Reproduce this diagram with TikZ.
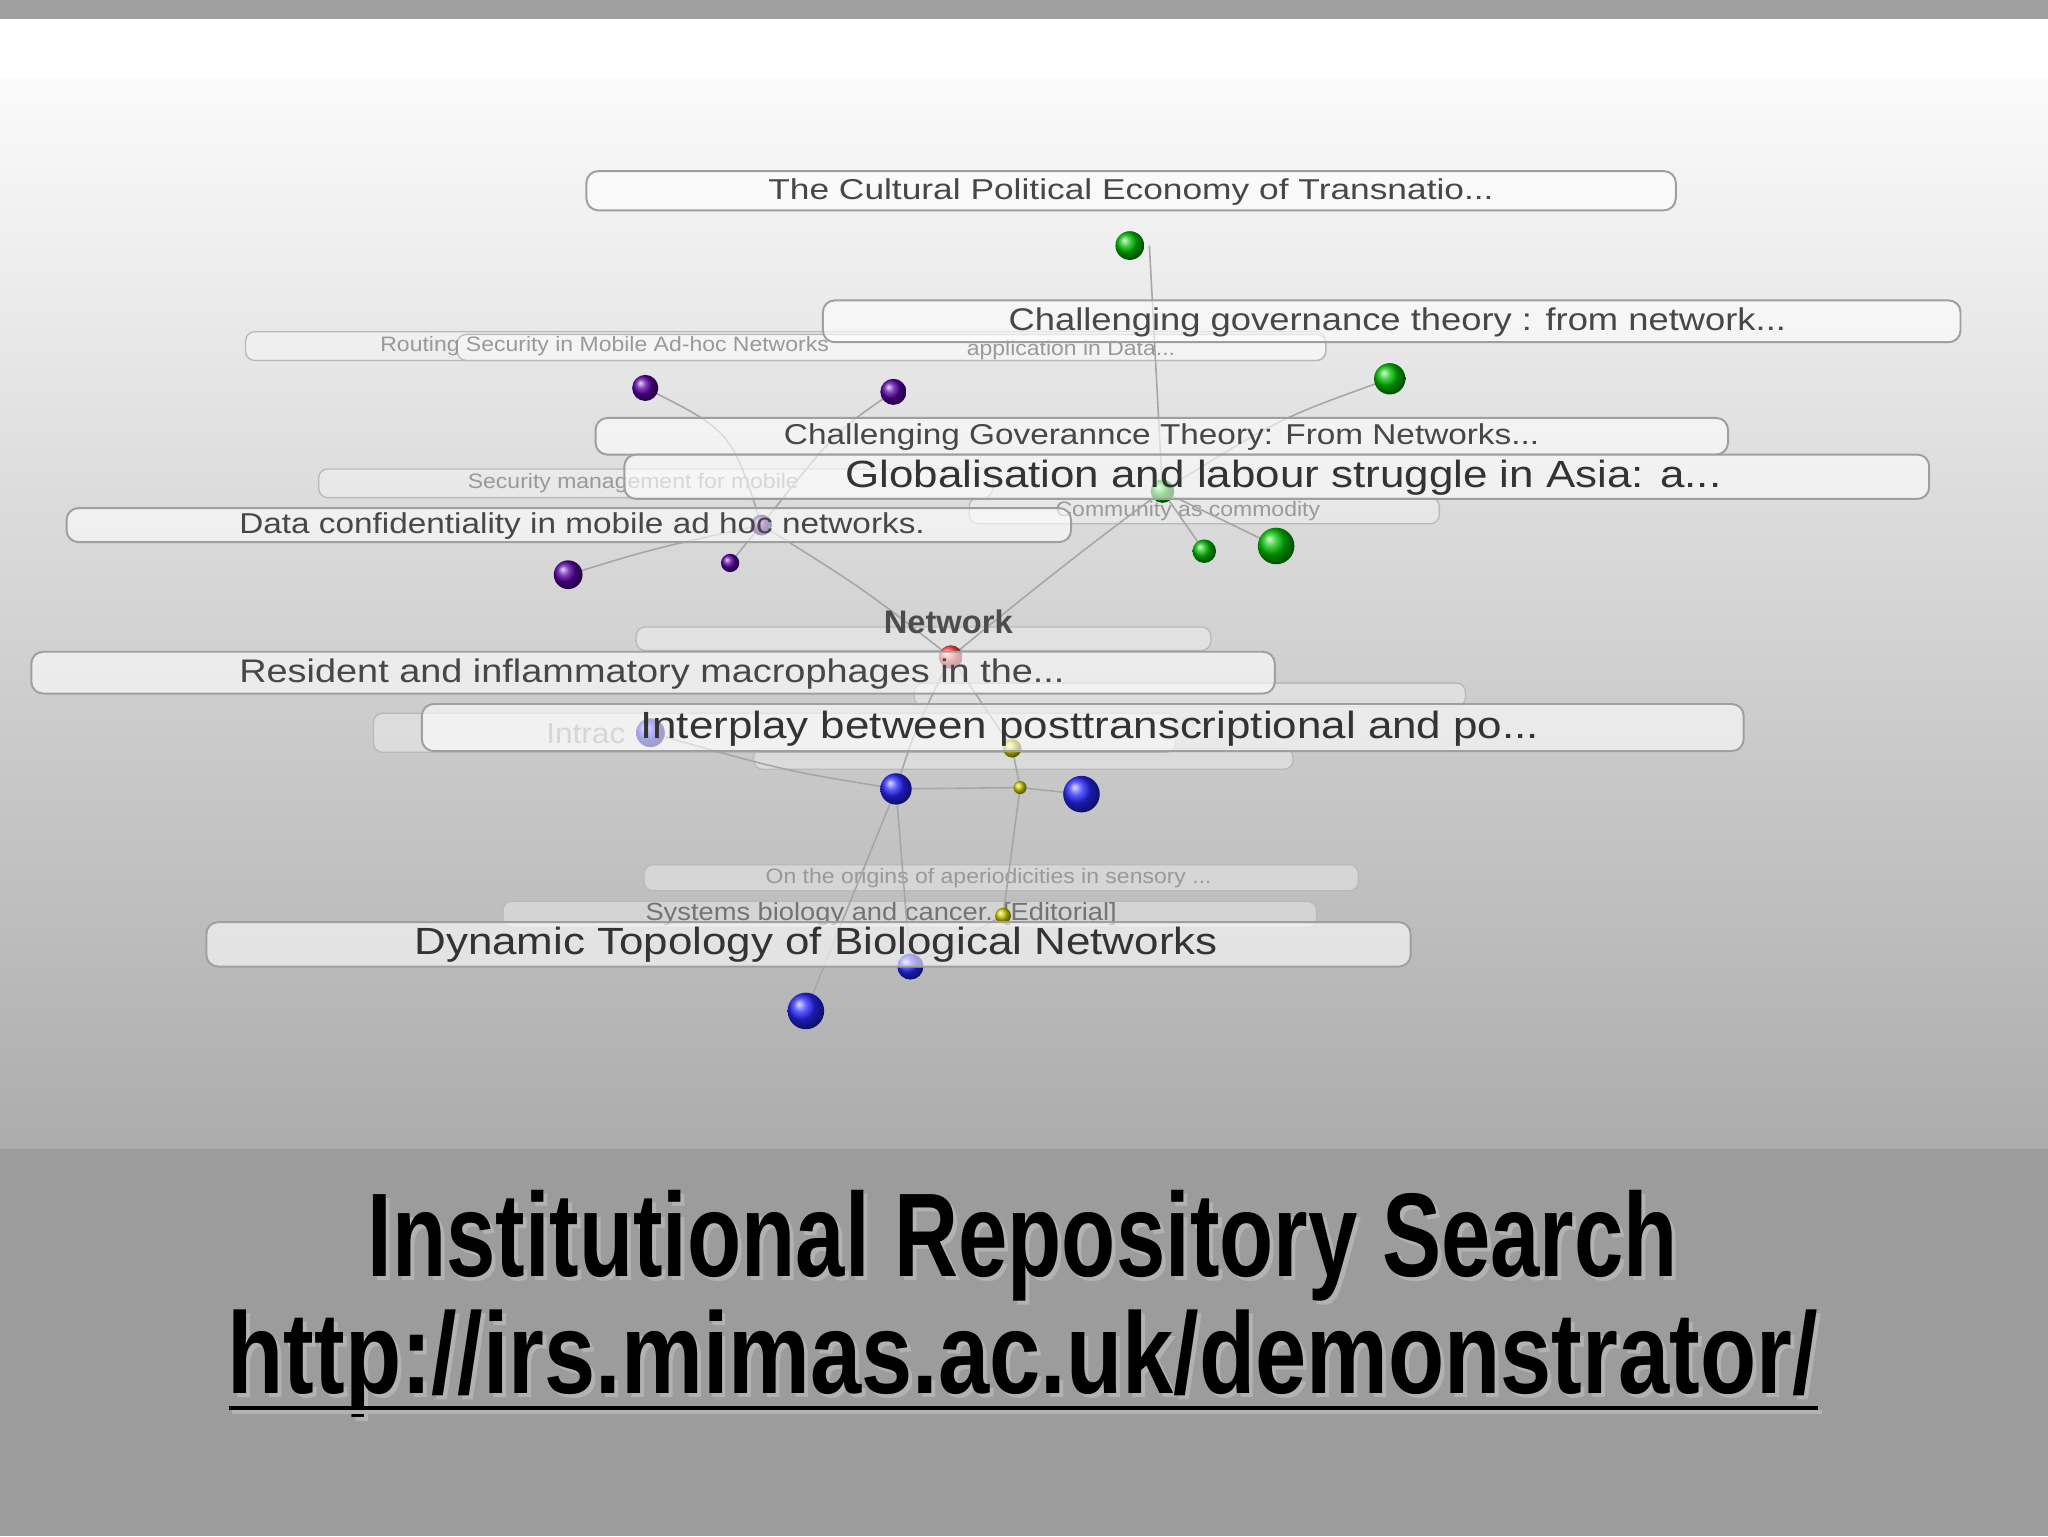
\documentclass[tikz,border=0pt]{standalone}
\usepackage{fontspec}
\setmainfont{Liberation Sans}
\usepackage{graphicx}
\begin{document}
\begin{tikzpicture}[x=1pt,y=-1pt,
  bar/.style={draw=gray!75,line width=1.5pt,rounded corners=9pt,fill=white,fill opacity=0.6},
  fbar/.style={draw=gray!55,line width=1pt,rounded corners=7pt,fill=white,fill opacity=0.35},
  lab/.style={text=black!72,anchor=west,inner sep=0pt,xscale=1.16,transform shape},
  flab/.style={text=black!40,anchor=west,inner sep=0pt,xscale=1.1,transform shape},
  edge/.style={draw=gray!70,line width=1.2pt}]
\useasboundingbox (0,0) rectangle (1568,1176);
% background
\fill[gray!75] (0,0) rectangle (1568,15);
\shade[top color=white,bottom color=gray!65] (0,15) rectangle (1568,880);
\fill[gray!78] (0,880) rectangle (1568,1176);
\fill[white] (0,15) rectangle (1568,60);
% faint bars
\draw[fbar] (188,254) rectangle (1015,276);
\draw[fbar] (350,256) rectangle (1015,276);
\node[flab,font=\fontsize{16}{16}\selectfont] at (291,265) {Routing Security in Mobile Ad-hoc Networks};
\node[flab,font=\fontsize{16}{16}\selectfont] at (740,268) {application in Data...};
\draw[fbar] (244,359) rectangle (760,381);
\node[flab,font=\fontsize{16}{16}\selectfont] at (358,370) {Security management for mobile};
\draw[fbar] (742,381) rectangle (1102,401);
\node[flab,font=\fontsize{16}{16}\selectfont] at (808,391) {Community as commodity};
\draw[fbar] (487,480) rectangle (927,498);
\draw[fbar] (700,523) rectangle (1122,541);
\draw[fbar] (577,573) rectangle (990,589);
\draw[fbar] (286,546) rectangle (900,576);
\node[flab,font=\fontsize{22}{22}\selectfont] at (418,562) {Intrac};
\draw[fbar] (493,662) rectangle (1040,682);
\node[flab,font=\fontsize{16}{16}\selectfont] at (586,672) {On the origins of aperiodicities in sensory ...};
\draw[fbar] (385,690) rectangle (1008,710);
\node[flab,font=\fontsize{19}{19}\selectfont,text=black!55] at (494,700) {Systems biology and cancer. [Editorial]};
% edges
\coordinate (hub) at (728,503);
\coordinate (g0) at (890,376); \coordinate (p0) at (583,402);
\coordinate (b0) at (686,604); \coordinate (y1) at (775,573);
\coordinate (y2) at (781,603); \coordinate (y3) at (768,701);
\draw[edge] (hub) .. controls (780,460) and (830,420) .. (g0);
\draw[edge] (g0) -- (880,188);
\draw[edge] (g0) .. controls (980,320) .. (1064,290);
\draw[edge] (g0) -- (977,418);
\draw[edge] (g0) -- (922,422);
\draw[edge] (hub) .. controls (660,450) .. (p0);
\draw[edge] (p0) .. controls (560,330) .. (494,297);
\draw[edge] (p0) .. controls (640,330) .. (684,300);
\draw[edge] (p0) .. controls (500,420) .. (435,440);
\draw[edge] (p0) -- (559,431);
\draw[edge] (hub) -- (y1);
\draw[edge] (hub) .. controls (700,560) .. (b0);
\draw[edge] (b0) -- (y2) -- (828,608);
\draw[edge] (b0) .. controls (600,590) .. (498,561);
\draw[edge] (b0) -- (617,774);
\draw[edge] (b0) -- (697,740);
\draw[edge] (y1) -- (y2) -- (y3) -- (697,740);
% balls
\foreach \x/\y/\r in {865/188/11,1064/290/12,977/418/14,922/422/9,890/376/9}
  \shade[ball color=green!75!black] (\x,\y) circle (\r);
\foreach \x/\y/\r in {494/297/10,684/300/10,435/440/11,559/431/7,583/402/8}
  \shade[ball color=violet!70!blue] (\x,\y) circle (\r);
\shade[ball color=red!70] (hub) circle (9);
\foreach \x/\y/\r in {498/561/11,686/604/12,828/608/14,617/774/14,697/740/10}
  \shade[ball color=blue!85] (\x,\y) circle (\r);
\foreach \x/\y/\r in {775/573/7,781/603/5,768/701/6}
  \shade[ball color=yellow!80!black] (\x,\y) circle (\r);
% main bars
\draw[bar] (449,131) rectangle (1283,161);
\node[lab,font=\fontsize{22}{22}\selectfont,xscale=1.06] at (588,147) {The Cultural Political Economy of Transnatio...};
\draw[bar] (630,230) rectangle (1501,262);
\node[lab,font=\fontsize{24}{24}\selectfont] at (772,247) {Challenging governance theory : from network...};
\draw[bar] (456,320) rectangle (1323,348);
\node[lab,font=\fontsize{22}{22}\selectfont] at (600,335) {Challenging Goverannce Theory: From Networks...};
\draw[bar] (478,348) rectangle (1477,382);
\node[lab,font=\fontsize{29}{29}\selectfont,text=black!80] at (647,366) {Globalisation and labour struggle in Asia: a...};
\draw[bar] (51,389) rectangle (820,415);
\node[lab,font=\fontsize{22}{22}\selectfont] at (183,403) {Data confidentiality in mobile ad hoc networks.};
\node[font=\bfseries\fontsize{25}{25}\selectfont,text=black!70] at (726,476) {Network};
\draw[bar] (24,499) rectangle (976,531);
\node[lab,font=\fontsize{25}{25}\selectfont] at (183,516) {Resident and inflammatory macrophages in the...};
\draw[bar] (323,539) rectangle (1335,575);
\node[lab,font=\fontsize{29}{29}\selectfont,text=black!80] at (490,558) {Interplay between posttranscriptional and po...};
\draw[bar] (158,706) rectangle (1080,740);
\node[lab,font=\fontsize{29}{29}\selectfont,text=black!80] at (317,723) {Dynamic Topology of Biological Networks};
% title
\node[text=gray!60,inner sep=0pt] at (786,957) {\resizebox{1003pt}{66pt}{\bfseries Institutional Repository Search}};
\node[inner sep=0pt] (t1) at (783,954) {\resizebox{1003pt}{66pt}{\bfseries Institutional Repository Search}};
\node[text=gray!60,inner sep=0pt] at (786,1047) {\resizebox{1217pt}{64pt}{\bfseries http://irs.mimas.ac.uk/demonstrator/}};
\node[inner sep=0pt] (t2) at (783,1044) {\resizebox{1217pt}{64pt}{\bfseries http://irs.mimas.ac.uk/demonstrator/}};
\draw[gray!60,line width=3pt] (178,1081) -- (1395,1081);
\draw[black,line width=3pt] (175,1078) -- (1392,1078);
\end{tikzpicture}
\end{document}
